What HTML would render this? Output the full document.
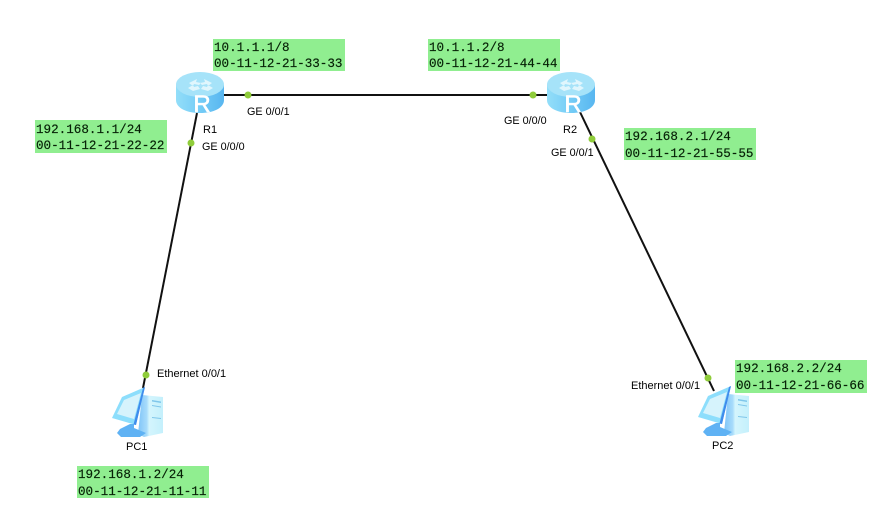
<!DOCTYPE html>
<html><head><meta charset="utf-8"><style>
html,body{margin:0;padding:0;background:#fff}
body{width:879px;height:514px;overflow:hidden;position:relative}
svg{position:absolute;left:0;top:0}
.m{font-family:"Liberation Mono",monospace;font-size:12.6px;fill:#062006;stroke:#062006;stroke-width:.15}
.s{font-family:"Liberation Sans",sans-serif;font-size:11px;fill:#000}
.g{font-size:10.8px}
</style></head><body>
<svg width="879" height="514" viewBox="0 0 879 514">
<defs>
<linearGradient id="rb" x1="0" x2="1" y1="0" y2="0"><stop offset="0" stop-color="#93def9"/><stop offset=".5" stop-color="#74ccf6"/><stop offset="1" stop-color="#58b6f0"/></linearGradient>
<linearGradient id="tw" x1="0" x2="1" y1="0" y2="0"><stop offset="0" stop-color="#7fc4f8"/><stop offset=".35" stop-color="#a8dcfb"/><stop offset=".45" stop-color="#d4f5fd"/><stop offset="1" stop-color="#c4f0fc"/></linearGradient>
<g id="router">
<path d="M0 13V28C0 36 10.500 41 24 41S48 36 48 28V13Z" fill="url(#rb)"/>
<ellipse cx="24" cy="12.500" rx="24" ry="12.500" fill="#a6e3f9"/>
<path d="M13 11l8-4-1 3 5 1-2 2-5-1-1 2zM36 11l-8-4 1 3-5 1 2 2 5-1 1 2zM17 19l7-2-2-3-4 1-1-2-5 3zM32 19l-7-2 2-3 4 1 1-2 5 3z" fill="#e0f6fd"/>
<text x="26" y="40" text-anchor="middle" style="font-family:'Liberation Sans',sans-serif;font-size:24px;fill:#fff;stroke:#fff;stroke-width:.6">R</text>
</g>
<g id="pc">
<path d="M30 8L51 10V46L32 50 26 47Z" fill="url(#tw)"/>
<path d="M40 13l9 1.500v1.500l-9-1.500zM40 18l9 1.500v1l-9-1.500zM40 30l9 1v1l-9-1z" fill="#7fc6ea"/>
<path d="M8 42L18 37 22 37 22 41 34 46 28 50 9 50 5 46Z" fill="#5fb2f4"/>
<path d="M10 10L33 0 24 38 0 31Z" fill="#8ddefc"/>
<path d="M12 13L29 6 22 32 5 27Z" fill="#d6f3fc"/>
<path d="M33 0L24 38 21.500 37.500 31 1Z" fill="#3f8cec"/>
</g>
</defs>
<rect x="213" y="39" width="132" height="32" fill="#90ee90"/>
<rect x="428" y="39" width="132" height="32" fill="#90ee90"/>
<rect x="35" y="120" width="132" height="33" fill="#90ee90"/>
<rect x="624" y="128" width="132" height="32" fill="#90ee90"/>
<rect x="735" y="360" width="132" height="33" fill="#90ee90"/>
<rect x="77" y="466" width="132" height="32" fill="#90ee90"/>
<g stroke="#111" stroke-width="2" fill="none">
<line x1="223" y1="95" x2="547" y2="95"/>
<line x1="197" y1="113" x2="143" y2="388"/>
<line x1="580" y1="112" x2="714" y2="391"/>
</g>
<use href="#router" x="176" y="72"/>
<use href="#router" x="547" y="72"/>
<use href="#pc" x="112" y="387"/>
<use href="#pc" x="698" y="386"/>
<g fill="#8fcc3a">
<circle cx="248" cy="95" r="3.500"/><circle cx="533" cy="95" r="3.500"/>
<circle cx="191" cy="143" r="3.500"/><circle cx="592" cy="139" r="3.500"/>
<circle cx="146" cy="375" r="3.500"/><circle cx="708" cy="378" r="3.500"/>
</g>
<text class="m" x="214" y="51">10.1.1.1/8</text><text class="m" x="214" y="67">00-11-12-21-33-33</text>
<text class="m" x="429" y="51">10.1.1.2/8</text><text class="m" x="429" y="67">00-11-12-21-44-44</text>
<text class="m" x="36" y="133">192.168.1.1/24</text><text class="m" x="36" y="149">00-11-12-21-22-22</text>
<text class="m" x="625" y="140">192.168.2.1/24</text><text class="m" x="625" y="157">00-11-12-21-55-55</text>
<text class="m" x="736" y="372">192.168.2.2/24</text><text class="m" x="736" y="389">00-11-12-21-66-66</text>
<text class="m" x="78" y="478">192.168.1.2/24</text><text class="m" x="78" y="495">00-11-12-21-11-11</text>
<text class="s g" x="247" y="115">GE 0/0/1</text>
<text class="s g" x="202" y="150">GE 0/0/0</text>
<text class="s" x="203" y="133">R1</text>
<text class="s g" x="504" y="124">GE 0/0/0</text>
<text class="s" x="563" y="133">R2</text>
<text class="s g" x="551" y="156">GE 0/0/1</text>
<text class="s" x="157" y="377">Ethernet 0/0/1</text>
<text class="s" x="631" y="389">Ethernet 0/0/1</text>
<text class="s" x="126" y="450">PC1</text>
<text class="s" x="712" y="449">PC2</text>
</svg>
</body></html>
